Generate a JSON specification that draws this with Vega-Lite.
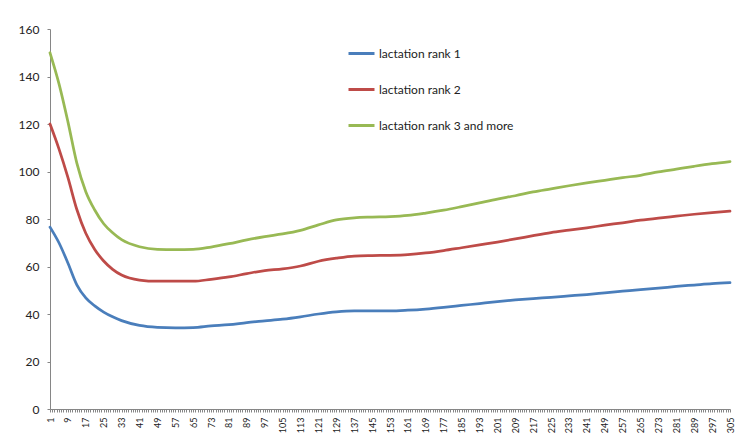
{
  "$schema": "https://vega.github.io/schema/vega-lite/v6.json",
  "description": "Lactation curves by lactation rank.",
  "autosize": "none",
  "width": 680,
  "height": 380,
  "padding": {"left": 50, "top": 29, "right": 15, "bottom": 32},
  "background": "white",
  "datasets": {
    "curves": [
      {"day": 1, "series": "lactation rank 1", "value": 76.6},
      {"day": 5, "series": "lactation rank 1", "value": 70.0},
      {"day": 9, "series": "lactation rank 1", "value": 61.5},
      {"day": 13, "series": "lactation rank 1", "value": 52.3},
      {"day": 17, "series": "lactation rank 1", "value": 46.8},
      {"day": 21, "series": "lactation rank 1", "value": 43.4},
      {"day": 25, "series": "lactation rank 1", "value": 40.8},
      {"day": 29, "series": "lactation rank 1", "value": 38.8},
      {"day": 33, "series": "lactation rank 1", "value": 37.2},
      {"day": 41, "series": "lactation rank 1", "value": 35.2},
      {"day": 49, "series": "lactation rank 1", "value": 34.4},
      {"day": 57, "series": "lactation rank 1", "value": 34.2},
      {"day": 65, "series": "lactation rank 1", "value": 34.3},
      {"day": 73, "series": "lactation rank 1", "value": 35.0},
      {"day": 81, "series": "lactation rank 1", "value": 35.5},
      {"day": 89, "series": "lactation rank 1", "value": 36.4},
      {"day": 97, "series": "lactation rank 1", "value": 37.1},
      {"day": 105, "series": "lactation rank 1", "value": 37.8},
      {"day": 113, "series": "lactation rank 1", "value": 38.8},
      {"day": 121, "series": "lactation rank 1", "value": 40.0},
      {"day": 129, "series": "lactation rank 1", "value": 40.9},
      {"day": 137, "series": "lactation rank 1", "value": 41.3},
      {"day": 145, "series": "lactation rank 1", "value": 41.3},
      {"day": 153, "series": "lactation rank 1", "value": 41.3},
      {"day": 161, "series": "lactation rank 1", "value": 41.6},
      {"day": 169, "series": "lactation rank 1", "value": 42.1},
      {"day": 177, "series": "lactation rank 1", "value": 42.8},
      {"day": 185, "series": "lactation rank 1", "value": 43.6},
      {"day": 193, "series": "lactation rank 1", "value": 44.4},
      {"day": 201, "series": "lactation rank 1", "value": 45.2},
      {"day": 209, "series": "lactation rank 1", "value": 45.9},
      {"day": 217, "series": "lactation rank 1", "value": 46.5},
      {"day": 225, "series": "lactation rank 1", "value": 47.0},
      {"day": 233, "series": "lactation rank 1", "value": 47.6},
      {"day": 241, "series": "lactation rank 1", "value": 48.2},
      {"day": 249, "series": "lactation rank 1", "value": 48.9},
      {"day": 257, "series": "lactation rank 1", "value": 49.6},
      {"day": 265, "series": "lactation rank 1", "value": 50.3},
      {"day": 273, "series": "lactation rank 1", "value": 50.9},
      {"day": 281, "series": "lactation rank 1", "value": 51.6},
      {"day": 289, "series": "lactation rank 1", "value": 52.2},
      {"day": 297, "series": "lactation rank 1", "value": 52.8},
      {"day": 305, "series": "lactation rank 1", "value": 53.2},
      {"day": 1, "series": "lactation rank 2", "value": 120.0},
      {"day": 5, "series": "lactation rank 2", "value": 109.5},
      {"day": 9, "series": "lactation rank 2", "value": 97.5},
      {"day": 13, "series": "lactation rank 2", "value": 84.0},
      {"day": 17, "series": "lactation rank 2", "value": 74.0},
      {"day": 21, "series": "lactation rank 2", "value": 67.2},
      {"day": 25, "series": "lactation rank 2", "value": 62.3},
      {"day": 29, "series": "lactation rank 2", "value": 58.8},
      {"day": 33, "series": "lactation rank 2", "value": 56.4},
      {"day": 41, "series": "lactation rank 2", "value": 54.3},
      {"day": 49, "series": "lactation rank 2", "value": 53.8},
      {"day": 57, "series": "lactation rank 2", "value": 53.8},
      {"day": 65, "series": "lactation rank 2", "value": 53.8},
      {"day": 73, "series": "lactation rank 2", "value": 54.6},
      {"day": 81, "series": "lactation rank 2", "value": 55.6},
      {"day": 89, "series": "lactation rank 2", "value": 57.0},
      {"day": 97, "series": "lactation rank 2", "value": 58.3},
      {"day": 105, "series": "lactation rank 2", "value": 59.0},
      {"day": 113, "series": "lactation rank 2", "value": 60.2},
      {"day": 121, "series": "lactation rank 2", "value": 62.2},
      {"day": 129, "series": "lactation rank 2", "value": 63.5},
      {"day": 137, "series": "lactation rank 2", "value": 64.4},
      {"day": 145, "series": "lactation rank 2", "value": 64.6},
      {"day": 153, "series": "lactation rank 2", "value": 64.7},
      {"day": 161, "series": "lactation rank 2", "value": 65.0},
      {"day": 169, "series": "lactation rank 2", "value": 65.7},
      {"day": 177, "series": "lactation rank 2", "value": 66.7},
      {"day": 185, "series": "lactation rank 2", "value": 67.9},
      {"day": 193, "series": "lactation rank 2", "value": 69.1},
      {"day": 201, "series": "lactation rank 2", "value": 70.3},
      {"day": 209, "series": "lactation rank 2", "value": 71.6},
      {"day": 217, "series": "lactation rank 2", "value": 73.0},
      {"day": 225, "series": "lactation rank 2", "value": 74.3},
      {"day": 233, "series": "lactation rank 2", "value": 75.3},
      {"day": 241, "series": "lactation rank 2", "value": 76.3},
      {"day": 249, "series": "lactation rank 2", "value": 77.4},
      {"day": 257, "series": "lactation rank 2", "value": 78.4},
      {"day": 265, "series": "lactation rank 2", "value": 79.5},
      {"day": 273, "series": "lactation rank 2", "value": 80.4},
      {"day": 281, "series": "lactation rank 2", "value": 81.2},
      {"day": 289, "series": "lactation rank 2", "value": 82.0},
      {"day": 297, "series": "lactation rank 2", "value": 82.7},
      {"day": 305, "series": "lactation rank 2", "value": 83.3},
      {"day": 1, "series": "lactation rank 3 and more", "value": 150.0},
      {"day": 5, "series": "lactation rank 3 and more", "value": 137.0},
      {"day": 9, "series": "lactation rank 3 and more", "value": 121.0},
      {"day": 13, "series": "lactation rank 3 and more", "value": 103.5},
      {"day": 17, "series": "lactation rank 3 and more", "value": 91.5},
      {"day": 21, "series": "lactation rank 3 and more", "value": 83.8},
      {"day": 25, "series": "lactation rank 3 and more", "value": 78.0},
      {"day": 29, "series": "lactation rank 3 and more", "value": 74.2},
      {"day": 33, "series": "lactation rank 3 and more", "value": 71.3},
      {"day": 41, "series": "lactation rank 3 and more", "value": 68.3},
      {"day": 49, "series": "lactation rank 3 and more", "value": 67.2},
      {"day": 57, "series": "lactation rank 3 and more", "value": 67.1},
      {"day": 65, "series": "lactation rank 3 and more", "value": 67.2},
      {"day": 73, "series": "lactation rank 3 and more", "value": 68.2},
      {"day": 81, "series": "lactation rank 3 and more", "value": 69.6},
      {"day": 89, "series": "lactation rank 3 and more", "value": 71.2},
      {"day": 97, "series": "lactation rank 3 and more", "value": 72.6},
      {"day": 105, "series": "lactation rank 3 and more", "value": 73.7},
      {"day": 113, "series": "lactation rank 3 and more", "value": 75.2},
      {"day": 121, "series": "lactation rank 3 and more", "value": 77.5},
      {"day": 129, "series": "lactation rank 3 and more", "value": 79.6},
      {"day": 137, "series": "lactation rank 3 and more", "value": 80.5},
      {"day": 145, "series": "lactation rank 3 and more", "value": 80.8},
      {"day": 153, "series": "lactation rank 3 and more", "value": 81.0},
      {"day": 161, "series": "lactation rank 3 and more", "value": 81.5},
      {"day": 169, "series": "lactation rank 3 and more", "value": 82.5},
      {"day": 177, "series": "lactation rank 3 and more", "value": 83.7},
      {"day": 185, "series": "lactation rank 3 and more", "value": 85.2},
      {"day": 193, "series": "lactation rank 3 and more", "value": 86.8},
      {"day": 201, "series": "lactation rank 3 and more", "value": 88.4},
      {"day": 209, "series": "lactation rank 3 and more", "value": 89.8},
      {"day": 217, "series": "lactation rank 3 and more", "value": 91.4},
      {"day": 225, "series": "lactation rank 3 and more", "value": 92.7},
      {"day": 233, "series": "lactation rank 3 and more", "value": 94.0},
      {"day": 241, "series": "lactation rank 3 and more", "value": 95.2},
      {"day": 249, "series": "lactation rank 3 and more", "value": 96.3},
      {"day": 257, "series": "lactation rank 3 and more", "value": 97.4},
      {"day": 265, "series": "lactation rank 3 and more", "value": 98.4},
      {"day": 273, "series": "lactation rank 3 and more", "value": 99.8},
      {"day": 281, "series": "lactation rank 3 and more", "value": 101.0},
      {"day": 289, "series": "lactation rank 3 and more", "value": 102.2},
      {"day": 297, "series": "lactation rank 3 and more", "value": 103.3},
      {"day": 305, "series": "lactation rank 3 and more", "value": 104.2}
    ]
  },
  "data": {"name": "curves"},
  "mark": {"type": "line", "interpolate": "monotone", "strokeWidth": 2.75, "strokeCap": "round", "clip": false},
  "encoding": {
    "x": {
      "field": "day",
      "type": "quantitative",
      "scale": {"domain": [1, 305], "nice": false, "zero": false},
      "axis": {
        "title": null,
        "tickCount": 305,
        "labelExpr": "(datum.value - 1) % 8 === 0 ? datum.label : ''",
        "labelOverlap": false,
        "labelBound": false,
        "labelFlush": false,
        "labelAngle": 270,
        "labelFontSize": 9,
        "labelPadding": 5,
        "tickSize": 3
      }
    },
    "y": {
      "field": "value",
      "type": "quantitative",
      "scale": {"domain": [0, 160], "nice": false},
      "axis": {
        "title": null,
        "values": [0, 20, 40, 60, 80, 100, 120, 140, 160],
        "labelFontSize": 12,
        "labelPadding": 8,
        "tickSize": 3
      }
    },
    "color": {
      "field": "series",
      "type": "nominal",
      "scale": {
        "domain": ["lactation rank 1", "lactation rank 2", "lactation rank 3 and more"],
        "range": ["#4A7EBB", "#BE4B48", "#98B954"]
      },
      "legend": {
        "title": null,
        "orient": "none",
        "legendX": 297,
        "legendY": 10,
        "symbolType": "stroke",
        "symbolSize": 676,
        "symbolStrokeWidth": 3,
        "labelFontSize": 12,
        "labelOffset": 3,
        "rowPadding": 15,
        "padding": 0
      }
    }
  },
  "config": {
    "font": "Lato",
    "view": {"stroke": null},
    "axis": {
      "grid": false,
      "domainColor": "#868686",
      "tickColor": "#868686",
      "labelColor": "#222222",
      "labelFont": "Lato"
    },
    "legend": {"labelColor": "#222222", "labelFont": "Lato"}
  }
}
